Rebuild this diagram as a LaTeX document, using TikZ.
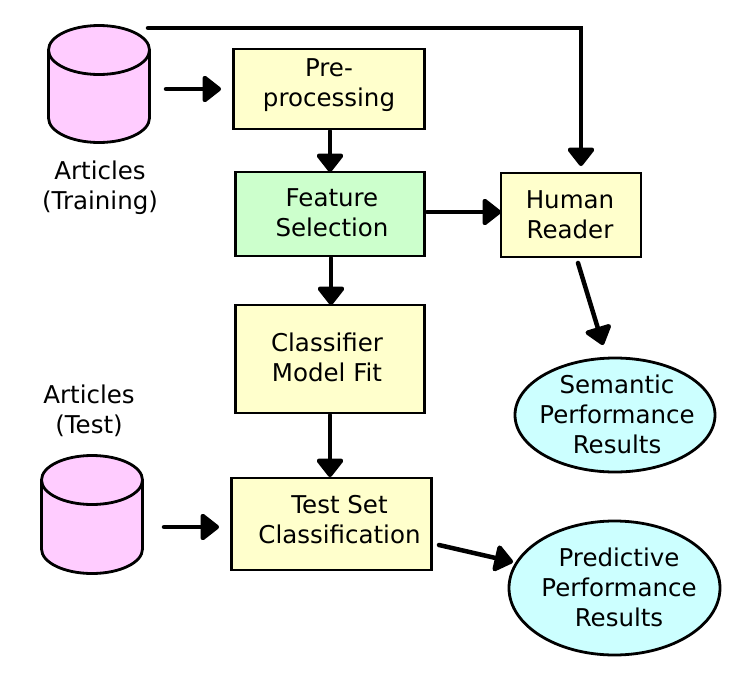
\documentclass[tikz,border=0pt]{standalone}
\usepackage{fontspec}
\setmainfont{DejaVu Sans}
\usetikzlibrary{shapes.geometric,arrows.meta}
\definecolor{boxy}{HTML}{FFFFCC}
\definecolor{boxg}{HTML}{CCFFCC}
\definecolor{cyl}{HTML}{FFCCFF}
\definecolor{ell}{HTML}{CCFFFF}
\tikzset{
 x=1pt,y=-1pt,
 every node/.style={inner sep=0pt},
 txt/.style={font=\fontsize{24.5}{30}\selectfont,align=center},
 bx/.style={draw=black,line width=2.5pt},
 res/.style={ellipse,draw=black,line width=2.8pt,fill=ell},
 arr/.style={line width=4.5pt,line cap=round,line join=miter,-{Triangle[round,length=20pt,width=30pt]}},
 cy/.style={draw=black,line width=2.8pt,fill=cyl}
}
\begin{document}
\begin{tikzpicture}
\useasboundingbox (0,0) rectangle (740,678);
% cylinders
\draw[cy] (48.5,50) -- (48.5,118) arc[start angle=180,end angle=360,x radius=50.5,y radius=-24.5] -- (149.5,50) arc[start angle=0,end angle=360,x radius=50.5,y radius=-24.5];
\draw[cy] (41.5,480) -- (41.5,549) arc[start angle=180,end angle=360,x radius=50.5,y radius=-24.5] -- (142.5,480) arc[start angle=0,end angle=360,x radius=50.5,y radius=-24.5];
\coordinate (cylA) at (166,89);
\coordinate (tipA) at (221,89);
\coordinate (cylB) at (164,527);
\coordinate (tipB) at (219,527);
\coordinate (cylTop) at (148,28);
\coordinate (corner) at (581,28);
\coordinate (tipH) at (581,166);
\coordinate (tipF) at (330,172);
\coordinate (startF) at (330,131);
\coordinate (tipR) at (501,212);
\coordinate (startR) at (427,212);
\coordinate (startC) at (331,258);
\coordinate (tipC) at (331,305);
\coordinate (startT) at (330,415);
\coordinate (tipT) at (330,477);
\coordinate (startS) at (578,263);
\coordinate (tipS) at (603,345);
\coordinate (startP) at (439,545);
\coordinate (tipP) at (513,562);
\node[bx,fill=boxy,minimum width=191pt,minimum height=80pt] (pre) at (329,89) {};
\node[bx,fill=boxg,minimum width=189pt,minimum height=84pt] (fs) at (330,214) {};
\node[bx,fill=boxy,minimum width=140pt,minimum height=84pt] (hr) at (571,215) {};
\node[bx,fill=boxy,minimum width=189pt,minimum height=108pt] (cm) at (330,359) {};
\node[bx,fill=boxy,minimum width=200pt,minimum height=92pt] (ts) at (331.5,524) {};
\node[res,minimum width=200pt,minimum height=114pt] (sem) at (615,415) {};
\node[res,minimum width=211pt,minimum height=134pt] (pred) at (614.5,588) {};
\node[txt] (preT) at (329,85) {Pre-\\processing};
\node[txt] (fsT) at (332,213) {Feature\\Selection};
\node[txt] (hrT) at (570,214.5) {Human\\Reader};
\node[txt] (cmT) at (327,357.5) {Classifier\\Model Fit};
\node[txt] (tsT) at (339.5,520) {Test Set\\Classification};
\node[txt] (semT) at (617,414) {Semantic\\Performance\\Results};
\node[txt] (predT) at (619,587.5) {Predictive\\Performance\\Results};
\node[txt] (a1) at (100,188) {Articles\\(Training)};
\node[txt] (a2) at (89,411) {Articles\\(Test)};
\draw[arr] (cylA) -- (tipA);
\draw[arr] (cylB) -- (tipB);
\draw[arr] (cylTop) -- (corner) -- (tipH);
\draw[arr] (startF) -- (tipF);
\draw[arr] (startR) -- (tipR);
\draw[arr] (startC) -- (tipC);
\draw[arr] (startT) -- (tipT);
\draw[arr] (startS) -- (tipS);
\draw[arr] (startP) -- (tipP);
\end{tikzpicture}
\end{document}
